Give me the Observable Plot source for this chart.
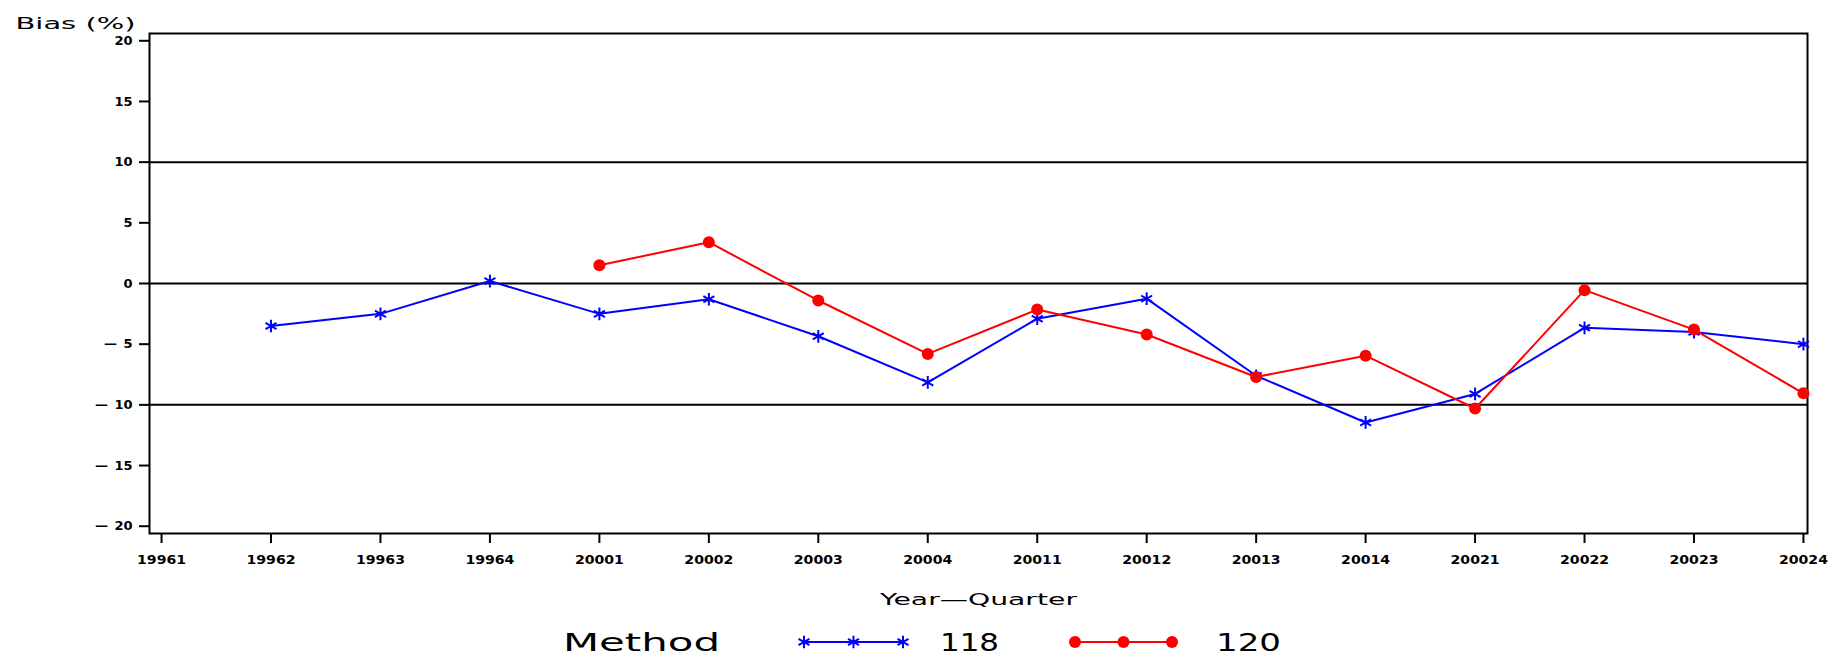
<!DOCTYPE html>
<html>
<head>
<meta charset="utf-8">
<script src="https://cdn.jsdelivr.net/npm/d3@7"></script>
<script src="https://cdn.jsdelivr.net/npm/@observablehq/plot@0.6"></script>
<style>
  html, body { margin: 0; padding: 0; background: #fff; }
  #chart svg { display: block; }
  #legend { display: block; }
</style>
</head>
<body>
<div id="chart"></div>
<div id="legendwrap"></div>
<script>
// ---- data ----
const quarters = ["19961","19962","19963","19964","20001","20002","20003","20004",
                  "20011","20012","20013","20014","20021","20022","20023","20024"];
const bias118 = [null,-3.5,-2.5,0.2,-2.5,-1.3,-4.35,-8.15,-2.9,-1.25,-7.6,-11.45,-9.1,-3.65,-4.0,-5.0];
const bias120 = [null,null,null,null,1.5,3.4,-1.4,-5.8,-2.15,-4.2,-7.7,-5.95,-10.3,-0.55,-3.8,-9.05];
const methods = ["118","120"];
const methodColors = ["#0000ff","#ff0000"];
const yTicks = [-20,-15,-10,-5,0,5,10,15,20];
const refLines = [10,0,-10];
const yTitle = "Bias (%)";
const xTitle = "Year\u2014Quarter";
const legendTitle = "Method";

// ---- table for the library ----
const rows = [];
quarters.forEach((q,i) => {
  if (bias118[i] != null) rows.push({idx:i, quarter:q, method:"118", bias:bias118[i]});
  if (bias120[i] != null) rows.push({idx:i, quarter:q, method:"120", bias:bias120[i]});
});
const qIndex = quarters.map((q,i) => i);

const fmtY = d => d < 0 ? "\u2014\u2002" + Math.abs(d) : String(d);

const plot = Plot.plot({
  width: 1843,
  height: 620,
  marginLeft: 149,
  marginRight: 36,
  marginTop: 33,
  marginBottom: 87,
  style: {fontFamily: "'DejaVu Sans', sans-serif", fontSize: "13px", color: "black", background: "white"},
  x: {domain: [-0.11, 15.037]},
  y: {domain: [-20.6, 20.6]},
  color: {domain: methods, range: methodColors},
  marks: [
    Plot.ruleY(refLines, {stroke: "black", strokeWidth: 2}),
    Plot.frame({stroke: "black", strokeWidth: 2}),
    Plot.axisY({ticks: yTicks, tickSize: 10, tickPadding: 7, tickFormat: fmtY, label: null, strokeWidth: 2, fontSize: 13, fontWeight: "bold"}),
    Plot.axisX({ticks: qIndex, tickSize: 10, tickPadding: 11, tickFormat: i => quarters[i], label: null, strokeWidth: 2, fontSize: 13, fontWeight: "bold"}),
    Plot.line(rows, {x: "idx", y: "bias", z: "method", stroke: "method", strokeWidth: 2}),
    Plot.dot(rows.filter(d => d.method === "118"), {x: "idx", y: "bias", symbol: "asterisk", stroke: methodColors[0], r: 6, strokeWidth: 2}),
    Plot.dot(rows.filter(d => d.method === "120"), {x: "idx", y: "bias", symbol: "circle", fill: methodColors[1], r: 6}),
    Plot.text([yTitle], {text: d => d, frameAnchor: "top-left", dx: -134, dy: -9, textAnchor: "start", lineAnchor: "middle", fontSize: 15}),
    Plot.text([xTitle], {text: d => d, frameAnchor: "bottom", dy: 67, textAnchor: "middle", lineAnchor: "middle", fontSize: 15})
  ]
});
document.getElementById("chart").appendChild(plot);

// widen the text like the original's stretched font
const qSet = new Set(quarters);
plot.querySelectorAll("text").forEach(t => {
  const s = t.textContent;
  let target = null;
  if (s === yTitle) target = 120;
  else if (s === xTitle) target = 197;
  else if (qSet.has(s)) target = 49;
  if (target != null) {
    t.setAttribute("textLength", target);
    t.setAttribute("lengthAdjust", "spacingAndGlyphs");
  }
});

// ---- legend below the chart ----
const lsvg = d3.select("#legendwrap").append("svg")
  .attr("id", "legend")
  .attr("width", 1843).attr("height", 38)
  .style("font-family", "'DejaVu Sans', sans-serif");
const cy = 22;
lsvg.append("text").attr("x", 563).attr("y", cy).attr("dy", "0.36em")
  .attr("font-size", 24).attr("textLength", 157).attr("lengthAdjust", "spacingAndGlyphs")
  .text(legendTitle);
const swatches = [
  {x0: 804, x1: 903, label: "118", lx: 940, lw: 59, color: methodColors[0], sym: d3.symbolAsterisk},
  {x0: 1075, x1: 1172, label: "120", lx: 1216, lw: 65, color: methodColors[1], sym: d3.symbolCircle}
];
swatches.forEach(s => {
  lsvg.append("line").attr("x1", s.x0).attr("x2", s.x1).attr("y1", cy).attr("y2", cy)
    .attr("stroke", s.color).attr("stroke-width", 2);
  [s.x0, (s.x0 + s.x1) / 2, s.x1].forEach(x => {
    const p = lsvg.append("path").attr("d", d3.symbol(s.sym, 36 * Math.PI)())
      .attr("transform", `translate(${x},${cy})`);
    if (s.sym === d3.symbolAsterisk) p.attr("fill", "none").attr("stroke", s.color).attr("stroke-width", 2);
    else p.attr("fill", s.color);
  });
  lsvg.append("text").attr("x", s.lx).attr("y", cy).attr("dy", "0.36em")
    .attr("font-size", 24).attr("textLength", s.lw).attr("lengthAdjust", "spacingAndGlyphs")
    .text(s.label);
});
</script>
</body>
</html>
